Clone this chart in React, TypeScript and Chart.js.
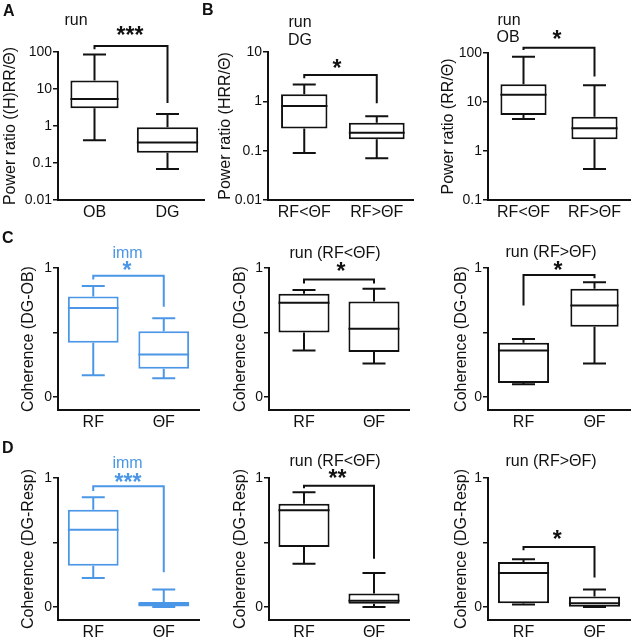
import React, { useEffect, useRef } from 'react';
import { Chart, registerables } from 'chart.js';

Chart.register(...registerables);

const FAMILY = '"Liberation Sans", Arial, Helvetica, sans-serif';
const BLACK = '#111111';
const BLUE = '#4b96e6';

// ---------- data: [min, Q1, median, Q3, max] per category ----------
const catsA = ['OB', 'DG'];
const boxA = [[0.41, 3.0, 5.4, 17, 85], [0.069, 0.19, 0.36, 0.92, 2.1]];
const sigA = [145, 118, 4.2]; // bracket top, left end, right end

const catsB = ['RF<ΘF', 'RF>ΘF'];
const boxB1 = [[0.09, 0.28, 0.8, 1.39, 2.2], [0.07, 0.17, 0.23, 0.37, 0.5]];
const sigB1 = [3.4, 2.95, 0.91];
const boxB2 = [[4.5, 5.4, 14, 23, 84], [0.43, 1.74, 2.9, 5.0, 22]];
const sigB2 = [128, 115, 33];

const catsCD = ['RF', 'ΘF'];
const boxC1 = [[0.17, 0.42, 0.69, 0.78, 0.86], [0.145, 0.22, 0.33, 0.51, 0.61]];
const sigC1 = [0.94, 0.91, 0.70];
const boxC2 = [[0.36, 0.50, 0.73, 0.80, 0.83], [0.26, 0.35, 0.53, 0.74, 0.84]];
const sigC2 = [0.91, 0.88, 0.88];
const boxC3 = [[0.10, 0.11, 0.36, 0.42, 0.45], [0.26, 0.545, 0.71, 0.84, 0.89]];
const sigC3 = [0.946, 0.71, 0.92];
const boxD1 = [[0.225, 0.32, 0.60, 0.755, 0.85], [0, 0.005, 0.02, 0.04, 0.137]];
const sigD1 = [0.936, 0.90, 0.27];
const boxD2 = [[0.335, 0.465, 0.75, 0.80, 0.89], [0, 0.025, 0.05, 0.105, 0.265]];
const sigD2 = [0.94, 0.92, 0.375];
const boxD3 = [[0.02, 0.03, 0.265, 0.35, 0.37], [0, 0.003, 0.03, 0.083, 0.137]];
const sigD3 = [0.465, 0.44, 0.23];

const ticksA = [0.01, 0.1, 1, 10, 100];
const tickLabelsA = ['0.01', '0.1', '1', '10', '100'];
const ticksB1 = [0.01, 0.1, 1, 10];
const tickLabelsB1 = ['0.01', '0.1', '1', '10'];
const ticksB2 = [0.1, 1, 10, 100];
const tickLabelsB2 = ['0.1', '1', '10', '100'];
const ticksCoh = [0, 0.5, 1];
const tickLabelsCoh = ['0', '', '1'];

// ---------- layout ----------
const X_H = 28;
const CAP = 23;

type Txt = { t: string; x: number; y: number; size: number; bold?: boolean; color: string; left?: boolean };
type PanelCfg = {
  canvasLeft: number; canvasTop: number; axisX: number; topPx: number; bottomPx: number; rightPx: number;
  cats: string[]; box: number[][]; sig: number[]; log: boolean; yMin: number; yMax: number;
  ticks: number[]; tickLabels: string[]; yTitle: string; titlePad: number; color: string;
  widths: number[]; texts: Txt[];
};

const star = (t: string, x: number, cy: number, color = BLACK): Txt => ({ t, x, y: cy + 10.5, size: 23, bold: true, color });
const ttl = (t: string, x: number, y: number, color = BLACK): Txt => ({ t, x, y, size: 16, color });

const panels: PanelCfg[] = [
  {
    canvasLeft: 0, canvasTop: 0, axisX: 58, topPx: 52, bottomPx: 200, rightPx: 204,
    cats: catsA, box: boxA, sig: sigA, log: true, yMin: 0.01, yMax: 100,
    ticks: ticksA, tickLabels: tickLabelsA, yTitle: 'Power ratio ((H)RR/Θ)', titlePad: 0.5, color: BLACK,
    widths: [0.66, 0.84],
    texts: [ttl('run', 76, 25), star('***', 130, 32.7)],
  },
  {
    canvasLeft: 200, canvasTop: 0, axisX: 268, topPx: 52, bottomPx: 200, rightPx: 413,
    cats: catsB, box: boxB1, sig: sigB1, log: true, yMin: 0.01, yMax: 10,
    ticks: ticksB1, tickLabels: tickLabelsB1, yTitle: 'Power ratio (HRR/Θ)', titlePad: 16.4, color: BLACK,
    widths: [0.64, 0.77],
    texts: [ttl('run', 300, 27), ttl('DG', 300, 45), star('*', 337, 65)],
  },
  {
    canvasLeft: 430, canvasTop: 0, axisX: 488, topPx: 53, bottomPx: 200, rightPx: 630,
    cats: catsB, box: boxB2, sig: sigB2, log: true, yMin: 0.1, yMax: 100,
    ticks: ticksB2, tickLabels: tickLabelsB2, yTitle: 'Power ratio (RR/Θ)', titlePad: 9.4, color: BLACK,
    widths: [0.65, 0.65],
    texts: [ttl('run', 509, 25), ttl('OB', 508, 41.7), star('*', 557, 36)],
  },
  {
    canvasLeft: 0, canvasTop: 215, axisX: 58, topPx: 268, bottomPx: 410, rightPx: 199,
    cats: catsCD, box: boxC1, sig: sigC1, log: false, yMin: -0.1, yMax: 1,
    ticks: ticksCoh, tickLabels: tickLabelsCoh, yTitle: 'Coherence (DG-OB)', titlePad: 19.4, color: BLUE,
    widths: [0.72, 0.72],
    texts: [ttl('imm', 127.5, 258, BLUE), star('*', 127, 267.5, BLUE)],
  },
  {
    canvasLeft: 211, canvasTop: 215, axisX: 269, topPx: 268, bottomPx: 410, rightPx: 409,
    cats: catsCD, box: boxC2, sig: sigC2, log: false, yMin: -0.1, yMax: 1,
    ticks: ticksCoh, tickLabels: tickLabelsCoh, yTitle: 'Coherence (DG-OB)', titlePad: 20.4, color: BLACK,
    widths: [0.73, 0.73],
    texts: [ttl('run (RF<ΘF)', 335, 257.7), star('*', 341, 268)],
  },
  {
    canvasLeft: 430, canvasTop: 215, axisX: 488, topPx: 268, bottomPx: 410, rightPx: 630,
    cats: catsCD, box: boxC3, sig: sigC3, log: false, yMin: -0.1, yMax: 1,
    ticks: ticksCoh, tickLabels: tickLabelsCoh, yTitle: 'Coherence (DG-OB)', titlePad: 22.4, color: BLACK,
    widths: [0.72, 0.68],
    texts: [ttl('run (RF>ΘF)', 551, 257), star('*', 558, 267.5)],
  },
  {
    canvasLeft: 0, canvasTop: 425, axisX: 58, topPx: 478, bottomPx: 620, rightPx: 199,
    cats: catsCD, box: boxD1, sig: sigD1, log: false, yMin: -0.1, yMax: 1,
    ticks: ticksCoh, tickLabels: tickLabelsCoh, yTitle: 'Coherence (DG-Resp)', titlePad: 19.4, color: BLUE,
    widths: [0.72, 0.72],
    texts: [ttl('imm', 127.5, 468.3, BLUE), star('***', 128, 479, BLUE)],
  },
  {
    canvasLeft: 211, canvasTop: 425, axisX: 269, topPx: 478, bottomPx: 620, rightPx: 409,
    cats: catsCD, box: boxD2, sig: sigD2, log: false, yMin: -0.1, yMax: 1,
    ticks: ticksCoh, tickLabels: tickLabelsCoh, yTitle: 'Coherence (DG-Resp)', titlePad: 20.4, color: BLACK,
    widths: [0.73, 0.73],
    texts: [ttl('run (RF<ΘF)', 335, 466), star('**', 337.5, 475)],
  },
  {
    canvasLeft: 430, canvasTop: 425, axisX: 488, topPx: 478, bottomPx: 620, rightPx: 630,
    cats: catsCD, box: boxD3, sig: sigD3, log: false, yMin: -0.1, yMax: 1,
    ticks: ticksCoh, tickLabels: tickLabelsCoh, yTitle: 'Coherence (DG-Resp)', titlePad: 22.4, color: BLACK,
    widths: [0.72, 0.72],
    texts: [ttl('run (RF>ΘF)', 551, 466), star('*', 557.3, 536)],
  },
];

const letters: Txt[] = [
  { t: 'A', x: 3, y: 15.5, size: 16, bold: true, color: BLACK, left: true },
  { t: 'B', x: 202, y: 15, size: 16, bold: true, color: BLACK, left: true },
  { t: 'C', x: 2, y: 243, size: 16, bold: true, color: BLACK, left: true },
  { t: 'D', x: 2, y: 453, size: 16, bold: true, color: BLACK, left: true },
];

function canvasSize(p: PanelCfg) {
  const w = Math.min(p.rightPx + 1, 631) - p.canvasLeft;
  const h = p.bottomPx - p.canvasTop + X_H;
  return { w, h };
}

function makePlugin(p: PanelCfg, extra: Txt[]) {
  return {
    id: 'boxAnno',
    afterDatasetsDraw(chart: any) {
      const ctx = chart.ctx as CanvasRenderingContext2D;
      const ys = chart.scales.y;
      const xs = chart.scales.x;
      ctx.save();
      chart.data.datasets.forEach((ds: any, di: number) => {
        const meta = chart.getDatasetMeta(di);
        (ds.stats || []).forEach((s: number[] | null, i: number) => {
          if (!s) return;
          const el: any = meta.data[i];
          if (!el) return;
          const x = el.x;
          const w = el.width;
          const [mn, q1, md, q3, mx] = s.map((v) => ys.getPixelForValue(v));
          ctx.strokeStyle = ds.borderColor;
          ctx.lineWidth = 2;
          ctx.beginPath();
          ctx.moveTo(x, q3); ctx.lineTo(x, mx);
          ctx.moveTo(x - CAP / 2, mx); ctx.lineTo(x + CAP / 2, mx);
          ctx.moveTo(x, q1); ctx.lineTo(x, mn);
          ctx.moveTo(x - CAP / 2, mn); ctx.lineTo(x + CAP / 2, mn);
          ctx.moveTo(x - w / 2, md); ctx.lineTo(x + w / 2, md);
          ctx.stroke();
        });
      });
      // significance bracket
      const [top, le, re] = p.sig;
      const xl = xs.getPixelForValue(0);
      const xr = xs.getPixelForValue(1);
      ctx.strokeStyle = p.color;
      ctx.lineWidth = 2;
      ctx.beginPath();
      ctx.moveTo(xl, ys.getPixelForValue(le));
      ctx.lineTo(xl, ys.getPixelForValue(top));
      ctx.lineTo(xr, ys.getPixelForValue(top));
      ctx.lineTo(xr, ys.getPixelForValue(re));
      ctx.stroke();
      // texts
      const all = [...p.texts, ...extra];
      all.forEach((t) => {
        ctx.font = `${t.bold ? 'bold ' : ''}${t.size}px ${FAMILY}`;
        ctx.fillStyle = t.color;
        ctx.textBaseline = 'alphabetic';
        ctx.textAlign = t.left ? 'left' : 'center';
        ctx.fillText(t.t, t.x - p.canvasLeft, t.y - p.canvasTop);
      });
      ctx.restore();
    },
  };
}

function makeConfig(p: PanelCfg, w: number, h: number, extra: Txt[]): any {
  const datasets = p.box.map((b, i) => ({
    type: 'bar',
    data: p.cats.map((_, j) => (j === i ? [b[1], b[3]] : null)),
    stats: p.cats.map((_, j) => (j === i ? b : null)),
    backgroundColor: '#ffffff',
    borderColor: p.color,
    borderWidth: 2,
    borderSkipped: false,
    grouped: false,
    categoryPercentage: 1,
    barPercentage: p.widths[i],
  }));
  return {
    type: 'bar',
    data: { labels: p.cats, datasets },
    options: {
      responsive: false,
      animation: false,
      devicePixelRatio: 1,
      layout: {
        padding: { left: 0, right: w - (p.rightPx - p.canvasLeft), top: p.topPx - p.canvasTop, bottom: 0 },
      },
      plugins: { legend: { display: false }, tooltip: { enabled: false } },
      scales: {
        x: {
          type: 'category',
          offset: true,
          afterFit: (s: any) => { s.height = X_H; },
          grid: { display: false, drawTicks: false },
          border: { display: true, color: BLACK, width: 2 },
          ticks: { font: { family: FAMILY, size: 16 }, color: BLACK, padding: 3, maxRotation: 0, autoSkip: false },
        },
        y: {
          type: p.log ? 'logarithmic' : 'linear',
          min: p.yMin,
          max: p.yMax,
          afterBuildTicks: (s: any) => { s.ticks = p.ticks.map((v) => ({ value: v })); },
          afterFit: (s: any) => { s.width = p.axisX - p.canvasLeft; },
          ticks: {
            callback: (_v: any, i: number) => p.tickLabels[i],
            font: { family: FAMILY, size: 14 },
            color: BLACK,
            padding: 1,
            autoSkip: false,
          },
          grid: { display: true, drawOnChartArea: false, drawTicks: true, tickLength: 5, color: BLACK, lineWidth: 1.5 },
          border: { display: true, color: BLACK, width: 2 },
          title: {
            display: true,
            text: p.yTitle,
            color: BLACK,
            font: { family: FAMILY, size: 16, lineHeight: 1.2 },
            padding: { top: p.titlePad, bottom: 0 },
          },
        },
      },
    },
    plugins: [makePlugin(p, extra)],
  };
}

function Panel({ p, extra }: { p: PanelCfg; extra: Txt[] }) {
  const ref = useRef<HTMLCanvasElement>(null);
  const { w, h } = canvasSize(p);
  useEffect(() => {
    if (!ref.current) return;
    const chart = new Chart(ref.current, makeConfig(p, w, h, extra));
    return () => chart.destroy();
  }, []);
  return (
    <canvas
      ref={ref}
      width={w}
      height={h}
      style={{ position: 'absolute', left: p.canvasLeft, top: p.canvasTop, width: w, height: h }}
    />
  );
}

export default function App() {
  // panel letters are drawn on the canvas of the panel they sit in
  const extras: Txt[][] = panels.map(() => []);
  extras[0].push(letters[0]);
  extras[1].push(letters[1]);
  extras[3].push(letters[2]);
  extras[6].push(letters[3]);
  return (
    <div
      style={{
        position: 'absolute', left: 0, top: 0, width: 631, height: 640,
        overflow: 'hidden', background: '#ffffff',
      }}
    >
      {panels.map((p, i) => (
        <Panel key={i} p={p} extra={extras[i]} />
      ))}
    </div>
  );
}
